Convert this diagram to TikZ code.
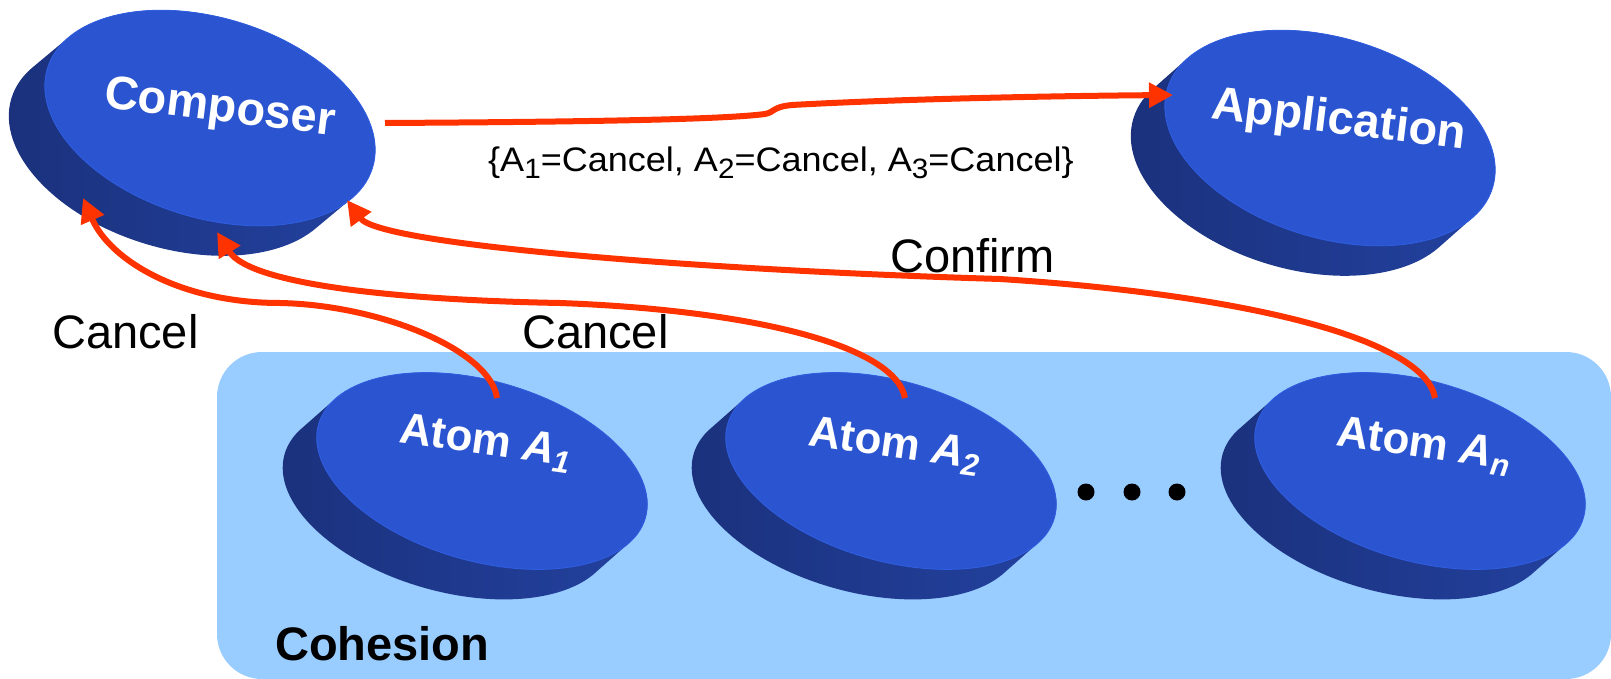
\documentclass[tikz,border=0pt]{standalone}
\usepackage{fontspec}
\setmainfont{Liberation Sans}
\usetikzlibrary{arrows.meta,calc}

\definecolor{flowred}{RGB}{255,51,0}
\definecolor{boxblue}{RGB}{153,204,255}
\definecolor{topblue}{RGB}{43,85,208}
\definecolor{rimblue}{RGB}{48,94,226}
\definecolor{sidedark}{RGB}{26,48,122}
\definecolor{sidelight}{RGB}{36,68,165}

% A tilted puck: #1,#2 centre of the top face, #3,#4 semi-axes (pt),
% #5 clockwise tilt (deg), #6,#7 offset of the bottom face
\newcommand\puck[7]{%
  \begin{scope}
    \clip \foreach \k in {0,...,24}{
      ({#1+\k*(#6)/24},{#2+\k*(#7)/24}) ellipse[x radius=#3pt, y radius=#4pt, rotate=-#5]};
    \shade[left color=sidedark, right color=sidelight]
      ({#1-#3-60},{#2-#3}) rectangle ({#1+#3+60},{#2+#3+60});
  \end{scope}
  \fill[topblue] (#1,#2) ellipse[x radius=#3pt, y radius=#4pt, rotate=-#5];
  \draw[rimblue, line width=0.8pt] (#1,#2) ellipse[x radius=#3pt, y radius=#4pt, rotate=-#5];
}

\tikzset{
  disktext/.style={text=white, font=\fontsize{47}{56}\selectfont\bfseries,
    inner sep=0pt, anchor=base west, rotate=-7},
  atomtext/.style={text=white, font=\fontsize{44}{52}\selectfont\bfseries,
    inner sep=0pt, anchor=base west, rotate=-8},
  lbl/.style={font=\fontsize{47}{56}\selectfont, inner sep=0pt, anchor=base west},
  flow/.style={draw=flowred, line width=6pt, -{Triangle[length=24pt,width=24pt]}},
}

\newcommand\sub[1]{\raisebox{-8pt}{\fontsize{31}{31}\selectfont\itshape #1}}
\newcommand\lsub[1]{\raisebox{-6pt}{\fontsize{28}{28}\selectfont #1}}

\begin{document}
\begin{tikzpicture}[x=1pt, y=-1pt]
\useasboundingbox (0,0) rectangle (1611,679);

% cohesion area
\fill[boxblue, rounded corners=45pt] (217,352) rectangle (1611,679);
\node[lbl, font=\fontsize{47}{56}\selectfont\bfseries] (cohesion) at (275,660) {Cohesion};

% pucks
\puck{210}{118}{170}{100}{17}{-36}{30}
\puck{1330}{138}{170}{100}{17}{-34}{30}
\puck{482}{471}{170}{90}{16}{-34}{30}
\puck{891}{471}{170}{90}{16}{-34}{30}
\puck{1420}{471}{170}{90}{16}{-34}{30}

\coordinate (comp) at (210,118);
\coordinate (app) at (1330,138);
\coordinate (a1) at (482,471);
\coordinate (a2) at (891,471);
\coordinate (an) at (1420,471);

% puck labels
\node[disktext] (composer) at (103,107) {Composer};
\node[disktext] (application) at (1210,118) {Application};
\node[atomtext] (atom1) at (398,442) {Atom \textit{A}\sub{1}};
\node[atomtext] (atom2) at (807,445) {Atom \textit{A}\sub{2}};
\node[atomtext] (atomn) at (1335,445) {Atom \textit{A}\sub{n}};

% further atoms
\foreach \x in {1086,1132,1177} \fill (\x,492) circle[radius=8.5pt];

% connector ends
\coordinate (comp-out) at ($(comp)+(175,5)$);
\coordinate (app-in) at ($(app)+(-157,-43)$);
\coordinate (comp-in1) at ($(comp)+(-127,80)$);
\coordinate (comp-in2) at ($(comp)+(7,114)$);
\coordinate (comp-in3) at ($(comp)+(137,82)$);
\coordinate (a1-out) at ($(a1)+(15,-73)$);
\coordinate (a2-out) at ($(a2)+(14,-73)$);
\coordinate (an-out) at ($(an)+(15,-73)$);

% messages
\draw[flow] (comp-out) .. controls (560,122) and (720,120) .. (765,114)
  .. controls (775,112) and (772,107) .. (792,105)
  .. controls (900,99) and (1050,96) .. (app-in);
\draw[flow] (a1-out) .. controls (490,350) and (380,305) .. (280,303)
  .. controls (180,303) and (110,260) .. (comp-in1);
\draw[flow] (a2-out) .. controls (895,345) and (750,310) .. (560,303)
  .. controls (400,300) and (250,285) .. (comp-in2);
\draw[flow] (an-out) .. controls (1425,340) and (1250,295) .. (1000,279)
  .. controls (700,270) and (380,245) .. (comp-in3);

% message labels
\node[lbl] (cancel1) at (52,348) {Cancel};
\node[lbl] (cancel2) at (522,348) {Cancel};
\node[lbl] (confirm) at (890,272) {Confirm};
\node[lbl, font=\fontsize{34}{40}\selectfont] (outcome) at (488,172)
  {\scalebox{1.06}[1]{\{A\lsub{1}=Cancel, A\lsub{2}=Cancel, A\lsub{3}=Cancel\}}};
\end{tikzpicture}
\end{document}
